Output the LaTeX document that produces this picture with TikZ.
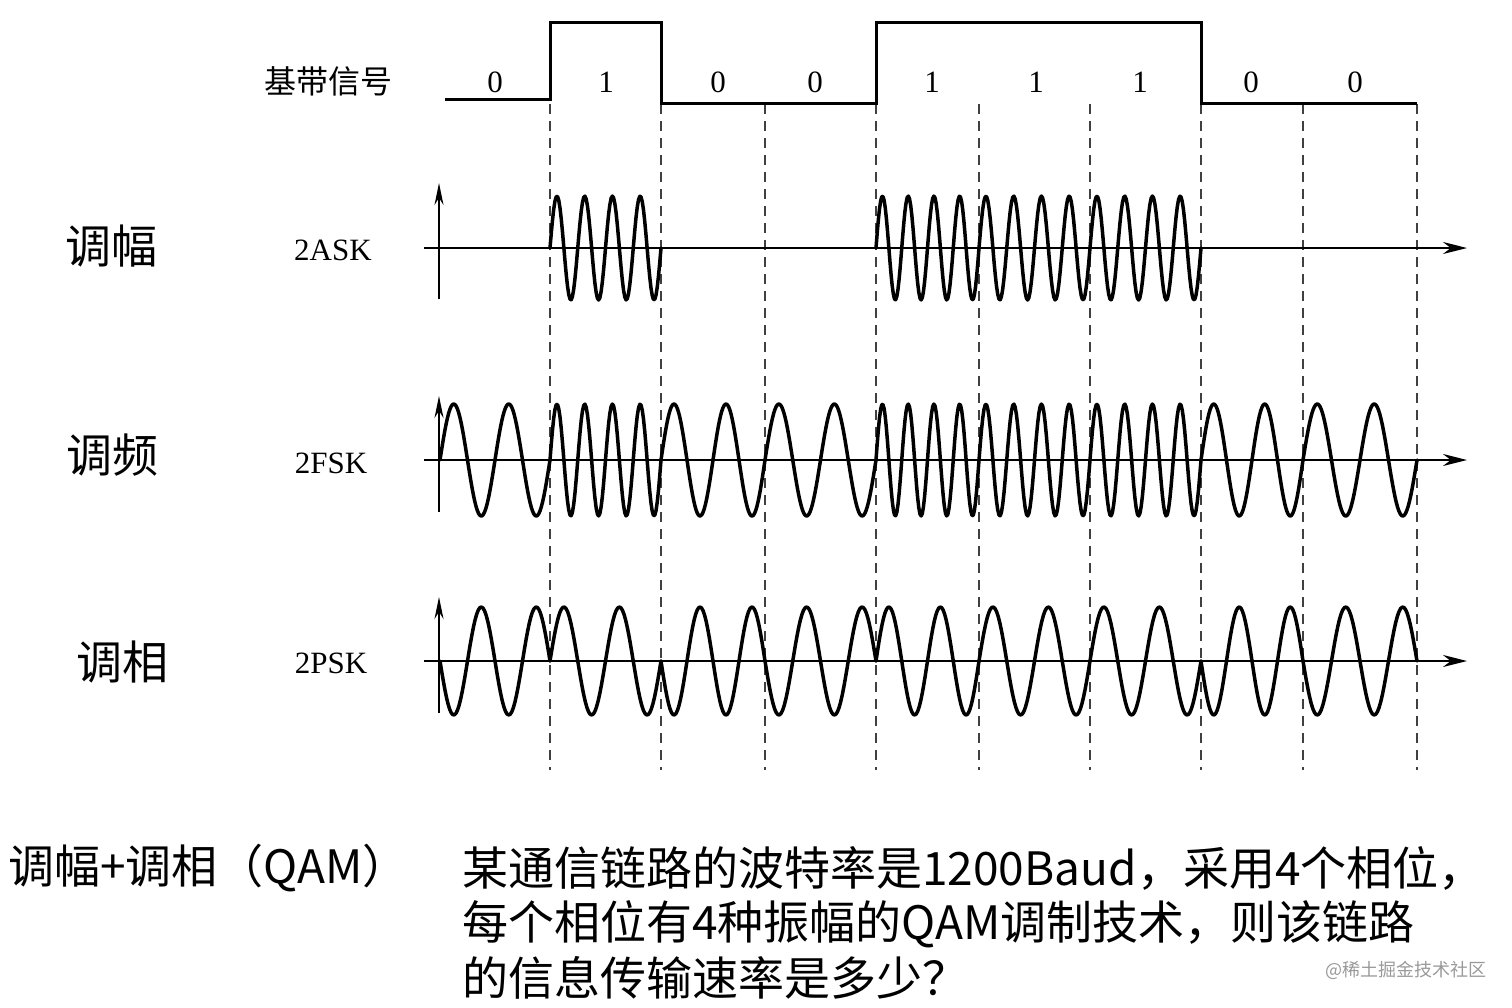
\documentclass[tikz,border=0pt]{standalone}
\usepackage{fontspec}
\setmainfont{Liberation Serif}
\newfontfamily\cjk{Noto Sans CJK SC}
\usetikzlibrary{arrows.meta}
\begin{document}
\begin{tikzpicture}[x=0.5pt,y=-0.5pt,
  wave/.style={line width=1.75pt, line join=round, line cap=round},
  base/.style={line width=1.5pt, line join=miter},
  haxis/.style={line width=1.1pt, -{Stealth[length=12pt,width=6pt]}},
  vaxis/.style={line width=1pt, -{Stealth[length=11pt,width=4.5pt]}},
  gridline/.style={line width=1pt, black!75, dash pattern=on 5pt off 3.5pt},
  digit/.style={font=\fontsize{15.5pt}{18pt}\selectfont, inner sep=0pt},
  sig/.style={font=\fontsize{15.5pt}{18pt}\selectfont, inner sep=0pt},
  big/.style={font=\cjk\fontsize{23pt}{27pt}\selectfont, inner sep=0pt},
]
\useasboundingbox (0,0) rectangle (1512,1008);

% bit boundaries (dashed)
\foreach \x in {550,661,765,876,979,1090,1201,1303,1417}
  \draw[gridline] (\x,104) -- (\x,770);

% baseband signal
\draw[base] (445,99) -- (550,99) -- (550,22) -- (661,22) -- (661,103)
  -- (876,103) -- (876,22) -- (1201,22) -- (1201,103) -- (1417,103);

% axes
\draw[haxis] (424,248) -- (1467,248);
\draw[haxis] (424,460) -- (1467,460);
\draw[haxis] (424,661) -- (1467,661);
\draw[vaxis] (439,299) -- (439,183);
\draw[vaxis] (439,512) -- (439,396);
\draw[vaxis] (439,713) -- (439,597);

% modulated waves
\foreach \xa/\xb/\b in {440/550/0, 550/661/1, 661/765/0, 765/876/0, 876/979/1, 979/1090/1, 1090/1201/1, 1201/1303/0, 1303/1417/0}{
  \ifnum\b=1
    \draw[wave] plot[domain=\xa:\xb, samples=90, variable=\t]
      (\t, {248 - 52*sin(1440*((\t-\xa)/(\xb-\xa)))});
  \fi
  \draw[wave] plot[domain=\xa:\xb, samples=90, variable=\t]
    (\t, {460 - 56*sin((2+2*\b)*360*((\t-\xa)/(\xb-\xa)))});
  \draw[wave] plot[domain=\xa:\xb, samples=70, variable=\t]
    (\t, {661 - 54*(2*\b-1)*sin(720*((\t-\xa)/(\xb-\xa)))});
}

% labels
\node[font=\cjk\fontsize{16pt}{18pt}\selectfont, inner sep=0pt] (bb) at (328,81) {基带信号};
\foreach \x/\d [count=\i] in {495/0,606/1,718/0,815/0,932/1,1036/1,1140/1,1251/0,1355/0}
  \node[digit] (d\i) at (\x,82) {\d};
\node[sig] (ask) at (333,250) {2ASK};
\node[sig] (fsk) at (331,463) {2FSK};
\node[sig] (psk) at (331,663) {2PSK};
\node[big] (am) at (111,246) {调幅};
\node[big] (fm) at (113,455) {调频};
\node[big] (pm) at (122,662) {调相};

\node[big, anchor=west] (qam) at (8,868) {调幅+调相（QAM）};
\node[big, anchor=west] (q1) at (462,868) {某通信链路的波特率是1200Baud，采用4个相位，};
\node[big, anchor=west] (q2) at (462,924) {每个相位有4种振幅的QAM调制技术，则该链路};
\node[big, anchor=west] (q3) at (462,978) {的信息传输速率是多少？};
\node[font=\cjk\fontsize{9pt}{10pt}\selectfont, text=black!40, anchor=east, inner sep=0pt] (wm) at (1487,970) {@稀土掘金技术社区};
\end{tikzpicture}
\end{document}
